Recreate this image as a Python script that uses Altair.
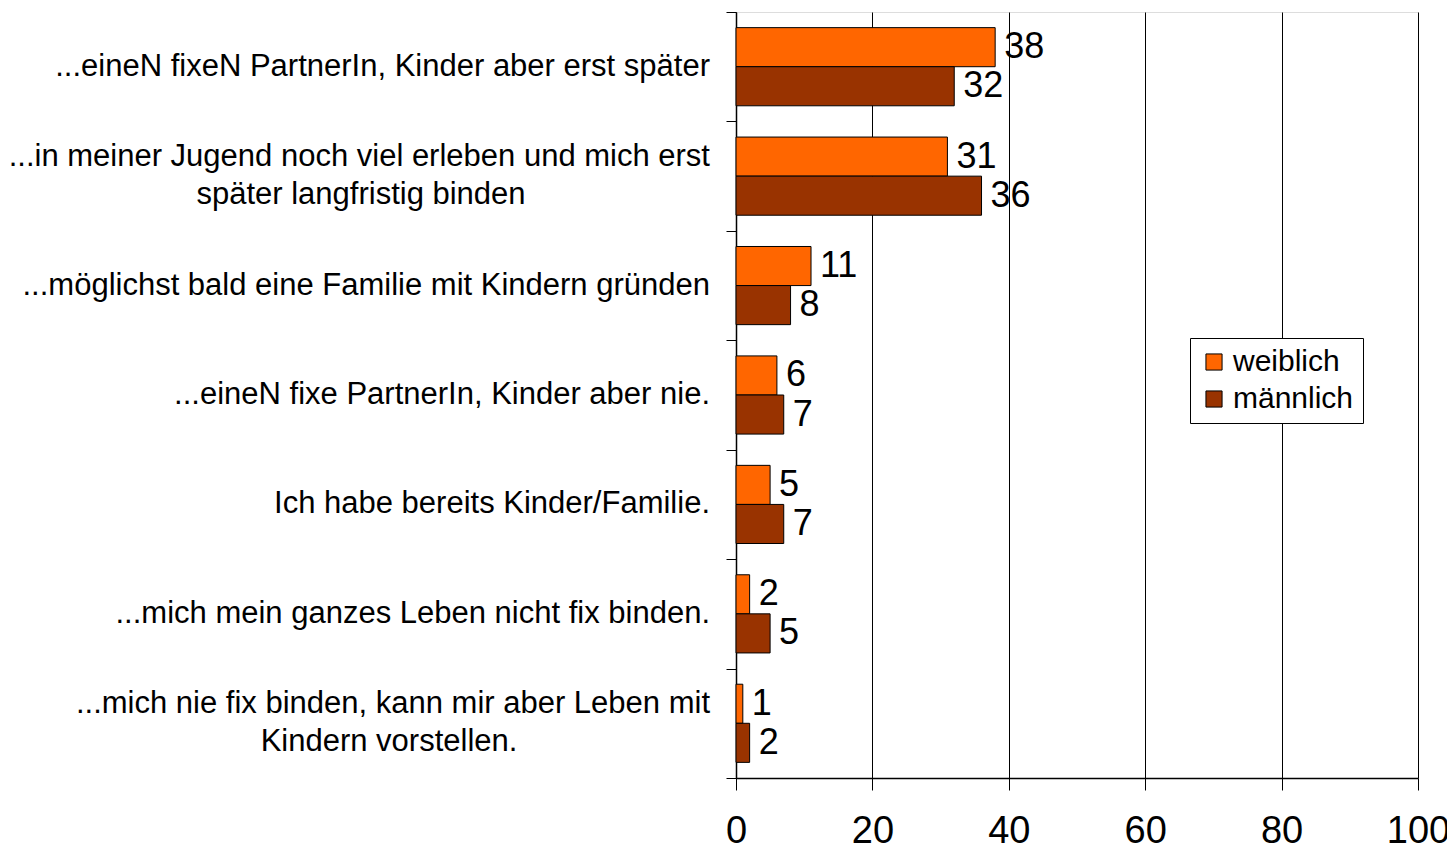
import altair as alt
import pandas as pd

categories = [
    "...eineN fixeN PartnerIn, Kinder aber erst später",
    "...in meiner Jugend noch viel erleben und mich erst später langfristig binden",
    "...möglichst bald eine Familie mit Kindern gründen",
    "...eineN fixe PartnerIn, Kinder aber nie.",
    "Ich habe bereits Kinder/Familie.",
    "...mich mein ganzes Leben nicht fix binden.",
    "...mich nie fix binden, kann mir aber Leben mit Kindern vorstellen.",
]
line1 = [
    "...eineN fixeN PartnerIn, Kinder aber erst später",
    "...in meiner Jugend noch viel erleben und mich erst",
    "...möglichst bald eine Familie mit Kindern gründen",
    "...eineN fixe PartnerIn, Kinder aber nie.",
    "Ich habe bereits Kinder/Familie.",
    "...mich mein ganzes Leben nicht fix binden.",
    "...mich nie fix binden, kann mir aber Leben mit",
]
line2 = ["", "später langfristig binden", "", "", "", "", "Kindern vorstellen."]

genders = ["weiblich", "männlich"]
weiblich = [38, 31, 11, 6, 5, 2, 1]
maennlich = [32, 36, 8, 7, 7, 5, 2]
x_ticks = [0, 20, 40, 60, 80, 100]

rows = []
for c, w, m in zip(categories, weiblich, maennlich):
    rows.append({"category": c, "gender": "weiblich", "value": w})
    rows.append({"category": c, "gender": "männlich", "value": m})
df = pd.DataFrame(rows)
labels_df = pd.DataFrame({"category": categories, "line1": line1, "line2": line2})

FONT = "Liberation Sans"

y_enc = alt.Y(
    "category:N",
    sort=categories,
    scale=alt.Scale(domain=categories, paddingInner=0, paddingOuter=0),
    axis=alt.Axis(
        labels=False, title=None, grid=False, ticks=True, tickBand="extent",
        tickSize=10, tickColor="black", domainColor="black", domainWidth=1.5,
    ),
)
yoff_enc = alt.YOffset(
    "gender:N", sort=genders,
    scale=alt.Scale(domain=genders, paddingOuter=0.4, paddingInner=0),
)

bars = alt.Chart(df).mark_bar(stroke="black", strokeWidth=1).encode(
    x=alt.X(
        "value:Q",
        scale=alt.Scale(domain=[0, 100], nice=False),
        axis=alt.Axis(
            values=x_ticks, title=None, grid=True, gridColor="black", gridOpacity=1,
            domainColor="black", domainWidth=1.5, tickColor="black", tickSize=12,
            labelFontSize=38, labelFont=FONT, labelColor="black", labelPadding=22,
            labelFlush=False, labelBound=False, labelOverlap=False,
        ),
    ),
    y=y_enc,
    yOffset=yoff_enc,
    color=alt.Color(
        "gender:N", sort=genders,
        scale=alt.Scale(domain=genders, range=["#FF6600", "#993300"]),
        legend=alt.Legend(
            title=None, orient="none", legendX=454, legendY=326,
            fillColor="white", strokeColor="black", padding=9,
            symbolType="square", symbolSize=260, symbolStrokeColor="black",
            symbolStrokeWidth=1, labelFontSize=30, labelFont=FONT,
            labelColor="black", rowPadding=7, symbolOpacity=1,
        ),
    ),
)

values = alt.Chart(df).mark_text(
    align="left", baseline="middle", dx=9, fontSize=36, font=FONT, color="black"
).encode(
    x="value:Q", y=alt.Y("category:N", sort=categories), yOffset=alt.YOffset("gender:N", sort=genders),
    text="value:Q",
)

single = alt.Chart(labels_df).transform_filter("datum.line2 == ''").mark_text(
    align="right", baseline="middle", fontSize=31, font=FONT, color="black"
).encode(y=alt.Y("category:N", sort=categories), x=alt.value(-26), text="line1:N")

multi1 = alt.Chart(labels_df).transform_filter("datum.line2 != ''").mark_text(
    align="right", baseline="middle", fontSize=31, font=FONT, color="black", dy=-19
).encode(y=alt.Y("category:N", sort=categories), x=alt.value(-26), text="line1:N")

multi2a = alt.Chart(labels_df).transform_filter(
    alt.datum.category == categories[1]
).mark_text(
    align="center", baseline="middle", fontSize=31, font=FONT, color="black", dy=19
).encode(y=alt.Y("category:N", sort=categories), x=alt.value(-375), text="line2:N")

multi2b = alt.Chart(labels_df).transform_filter(
    alt.datum.category == categories[6]
).mark_text(
    align="center", baseline="middle", fontSize=31, font=FONT, color="black", dy=19
).encode(y=alt.Y("category:N", sort=categories), x=alt.value(-347), text="line2:N")

chart = alt.layer(bars, values, single, multi1, multi2a, multi2b).properties(
    width=682, height=766,
    autosize=alt.AutoSizeParams(type="none"),
    padding={"left": 728, "top": 4, "right": 29, "bottom": 66},
).configure_view(stroke="black", strokeWidth=1.5).configure(font=FONT, background="white")

chart.save("out.html", embed_options={"renderer": "svg", "actions": False})
